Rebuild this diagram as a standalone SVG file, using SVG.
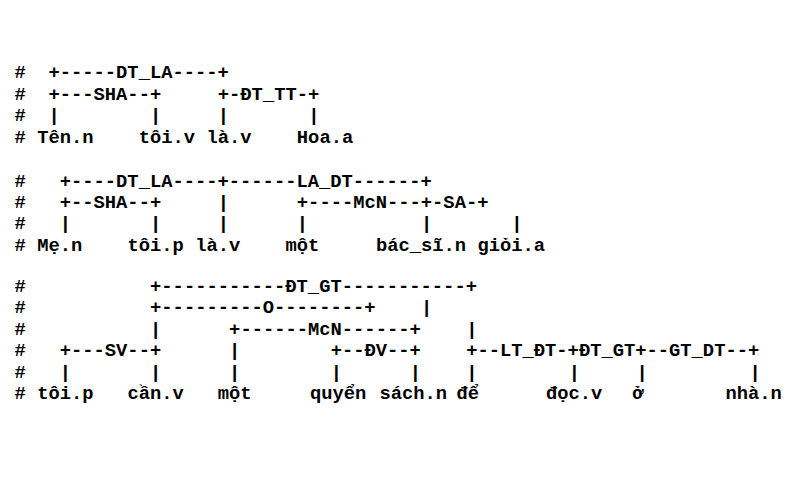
<svg xmlns="http://www.w3.org/2000/svg" width="802" height="482" viewBox="0 0 802 482">
<style>
text { font-family: "Liberation Mono", "DejaVu Sans Mono", monospace; font-size: 18.8px; font-weight: bold; fill: #000; }
</style>
<rect x="0" y="0" width="802" height="482" fill="#fff"/>
<g id="comment-marks">
<text x="14.6" y="78">#</text><text x="14.6" y="99.5">#</text><text x="14.6" y="121">#</text><text x="14.6" y="142.5">#</text>
<text x="14.6" y="186.5">#</text><text x="14.6" y="207.9">#</text><text x="14.6" y="229.3">#</text><text x="14.6" y="250.7">#</text>
<text x="14.6" y="292">#</text><text x="14.6" y="313.4">#</text><text x="14.6" y="334.8">#</text><text x="14.6" y="356.2">#</text><text x="14.6" y="377.6">#</text><text x="14.6" y="399">#</text>
</g>
<g id="connectors">
<g id="tree1-links">
<text x="48.47" y="78">+-----DT_LA----+</text>
<text x="48.47" y="99.5">+---SHA--+</text>
<text x="217.82" y="99.5">+-ĐT_TT-+</text>
<text x="48.47 150.08 217.82 308.14" y="121">||||</text>
</g>
<g id="tree2-links">
<text x="59.76" y="186.5">+----DT_LA----+------LA_DT------+</text>
<text x="59.76" y="207.9">+--SHA--+</text>
<text x="217.82" y="207.9">|</text>
<text x="296.85" y="207.9">+----McN---+-SA-+</text>
<text x="59.76 150.08 217.82 296.85 421.04 511.36" y="229.3">||||||</text>
</g>
<g id="tree3-links">
<text x="150.08" y="292">+-----------ĐT_GT-----------+</text>
<text x="150.08" y="313.4">+---------O--------+</text>
<text x="421.04" y="313.4">|</text>
<text x="150.08" y="334.8">|</text>
<text x="229.11" y="334.8">+------McN------+</text>
<text x="466.2" y="334.8">|</text>
<text x="59.76" y="356.2">+---SV--+</text>
<text x="229.11" y="356.2">|</text>
<text x="330.72" y="356.2">+--ĐV--+</text>
<text x="466.2" y="356.2">+--LT_ĐT-+ĐT_GT+--GT_DT--+</text>
<text x="59.76 150.08 229.11 330.72 409.75 466.2 568.81 636.55 749.45" y="377.6">|||||||||</text>
</g>
</g>
<g id="tree1-words">
<g id="n1-ten"><text x="37.18" y="142.5">Tên.n</text></g>
<g id="n1-toi"><text x="138.79" y="142.5">tôi.v</text></g>
<g id="n1-la"><text x="206.53" y="142.5">là.v</text></g>
<g id="n1-hoa"><text x="296.85" y="142.5">Hoa.a</text></g>
</g>
<g id="tree2-words">
<g id="n2-me"><text x="37.18" y="250.7">Mẹ.n</text></g>
<g id="n2-toi"><text x="127.5" y="250.7">tôi.p</text></g>
<g id="n2-la"><text x="195.24" y="250.7">là.v</text></g>
<g id="n2-mot"><text x="285.56" y="250.7">một</text></g>
<g id="n2-bacsi"><text x="375.88" y="250.7">bác_sĩ.n</text></g>
<g id="n2-gioi"><text x="477.49" y="250.7">giỏi.a</text></g>
</g>
<g id="tree3-words">
<g id="n3-toi"><text x="37.18" y="399">tôi.p</text></g>
<g id="n3-can"><text x="127.5" y="399">cần.v</text></g>
<g id="n3-mot"><text x="217.82" y="399">một</text></g>
<g id="n3-quyen"><text x="310" y="399">quyển</text></g>
<g id="n3-sach"><text x="379.5" y="399">sách.n</text></g>
<g id="n3-de"><text x="456.5" y="399">để</text></g>
<g id="n3-doc"><text x="546" y="399">đọc.v</text></g>
<g id="n3-o"><text x="632" y="399">ở</text></g>
<g id="n3-nha"><text x="725.5" y="399">nhà.n</text></g>
</g>
</svg>
